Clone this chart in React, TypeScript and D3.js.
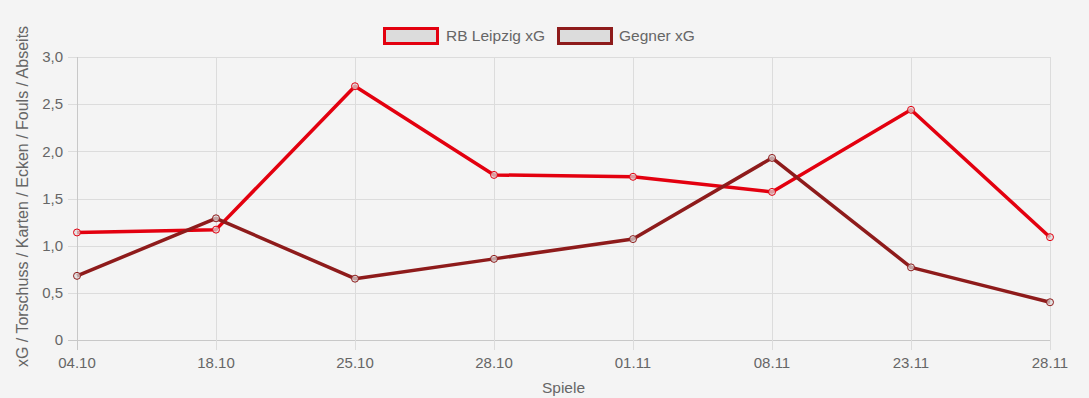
import React from "react";
import * as d3 from "d3";

const categories = ["04.10", "18.10", "25.10", "28.10", "01.11", "08.11", "23.11", "28.11"];
const leipzigXG = [1.14, 1.17, 2.69, 1.75, 1.73, 1.57, 2.44, 1.09];
const gegnerXG = [0.68, 1.29, 0.65, 0.86, 1.07, 1.93, 0.77, 0.4];
const yTicks = [0, 0.5, 1, 1.5, 2, 2.5, 3];
const seriesNames = ["RB Leipzig xG", "Gegner xG"];
const seriesColors = ["#e3000f", "#8e1b1b"];

const W = 1089;
const H = 398;
const left = 77;
const right = 1050;
const top = 57;
const bottom = 340;
const FONT = "'Liberation Sans', Arial, Helvetica, sans-serif";
const TEXT = "#666";
const GRID = "#dcdcdc";

export default function App() {
  const x = d3.scalePoint<string>().domain(categories).range([left, right]);
  const y = d3.scaleLinear().domain([0, 3]).range([bottom, top]);
  const line = d3
    .line<number>()
    .x((_, i) => x(categories[i]) as number)
    .y((d) => y(d));
  const fmt = (v: number) => (v === 0 ? "0" : d3.format(".1f")(v).replace(".", ","));
  const series = [leipzigXG, gegnerXG];

  const legendItems = [
    { box: 384.5, text: 446 },
    { box: 558.5, text: 619 },
  ];

  return (
    <svg
      width={W}
      height={H}
      style={{ position: "absolute", left: 0, top: 0, display: "block" }}
      fontFamily={FONT}
    >
      <rect x={0} y={0} width={W} height={H} fill="#f4f4f4" />
      {yTicks.map((t) => (
        <line
          key={"h" + t}
          x1={left - 9}
          x2={right}
          y1={Math.round(y(t)) + 0.5}
          y2={Math.round(y(t)) + 0.5}
          stroke={t === 0 ? "#c8c8c8" : GRID}
          strokeWidth={1}
        />
      ))}
      {categories.map((c, i) => (
        <line
          key={"v" + c}
          x1={Math.round(x(c) as number) + 0.5}
          x2={Math.round(x(c) as number) + 0.5}
          y1={top}
          y2={bottom + 10}
          stroke={i === 0 ? "#c8c8c8" : GRID}
          strokeWidth={1}
        />
      ))}
      {yTicks.map((t) => (
        <text
          key={"yl" + t}
          x={63}
          y={y(t)}
          dy="0.35em"
          textAnchor="end"
          fontSize={15}
          fill={TEXT}
        >
          {fmt(t)}
        </text>
      ))}
      {categories.map((c) => (
        <text key={"xl" + c} x={x(c)} y={368} textAnchor="middle" fontSize={15} fill={TEXT}>
          {c}
        </text>
      ))}
      <text x={563.5} y={393} textAnchor="middle" fontSize={15.5} fill={TEXT}>
        Spiele
      </text>
      <text
        transform={`translate(28,196.5) rotate(-90)`}
        textAnchor="middle"
        fontSize={16}
        fill={TEXT}
      >
        xG / Torschuss / Karten / Ecken / Fouls / Abseits
      </text>
      {series.map((s, k) => (
        <path
          key={"l" + k}
          d={line(s) || ""}
          fill="none"
          stroke={seriesColors[k]}
          strokeWidth={3.5}
          strokeLinejoin="round"
        />
      ))}
      {series.map((s, k) =>
        s.map((v, i) => (
          <circle
            key={"p" + k + "-" + i}
            cx={x(categories[i])}
            cy={y(v)}
            r={3.5}
            fill="rgba(220,220,220,0.7)"
            stroke={seriesColors[k]}
            strokeWidth={1}
          />
        ))
      )}
      {seriesNames.map((n, k) => (
        <g key={"lg" + k}>
          <rect
            x={legendItems[k].box}
            y={28.5}
            width={53}
            height={15}
            fill="#dcdcdc"
            stroke={seriesColors[k]}
            strokeWidth={3}
          />
          <text x={legendItems[k].text} y={41} fontSize={15.5} fill={TEXT}>
            {n}
          </text>
        </g>
      ))}
    </svg>
  );
}
